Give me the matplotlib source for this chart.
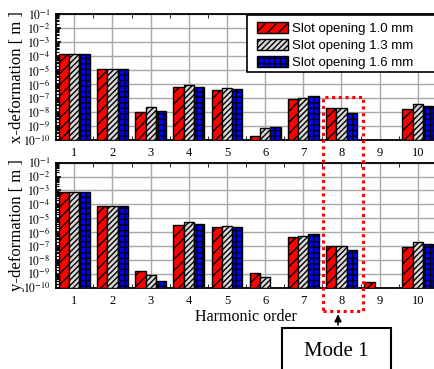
import numpy as np
import matplotlib
matplotlib.use("Agg")
import matplotlib.pyplot as plt
from matplotlib.patches import Rectangle, FancyArrowPatch
from matplotlib.ticker import LogLocator, NullFormatter, FixedLocator

plt.rcParams["font.family"] = ["Liberation Serif", "DejaVu Serif"]
plt.rcParams["mathtext.fontset"] = "stix"
plt.rcParams["hatch.linewidth"] = 1.0

W, H = 435, 369
DPI = 100

# Harmonic orders and deformation amplitudes [m] per slot opening
orders = [1, 2, 3, 4, 5, 6, 7, 8, 9, 10]
series_labels = ["Slot opening 1.0 mm", "Slot opening 1.3 mm", "Slot opening 1.6 mm"]
nan = np.nan
x_def_10 = [1.3e-4, 1.25e-5, 1.0e-8, 5.8e-7, 3.7e-7, 1.9e-10, 8.5e-8, 1.8e-8, nan, 1.6e-8]
x_def_13 = [1.3e-4, 1.25e-5, 2.1e-8, 8.0e-7, 4.9e-7, 6.8e-10, 9.5e-8, 1.8e-8, nan, 3.5e-8]
x_def_16 = [1.3e-4, 1.25e-5, 1.2e-8, 6.4e-7, 4.2e-7, 8.5e-10, 1.3e-7, 8.5e-9, nan, 2.5e-8]
y_def_10 = [8.1e-4, 7.6e-5, 1.7e-9, 3.5e-6, 2.2e-6, 1.15e-9, 4.8e-7, 1.0e-7, 2.6e-10, 9.1e-8]
y_def_13 = [8.1e-4, 7.6e-5, 8.3e-10, 5.1e-6, 2.95e-6, 6.0e-10, 5.6e-7, 1.0e-7, nan, 2.1e-7]
y_def_16 = [8.1e-4, 7.6e-5, 3.1e-10, 3.7e-6, 2.5e-6, nan, 7.4e-7, 5.2e-8, nan, 1.4e-7]

styles = [
    dict(facecolor="#ff0000", hatch="///"),
    dict(facecolor="#d8d8d8", hatch="//////"),
    dict(facecolor="#0000ff", hatch="+++"),
]

YMIN, YMAX = 1e-10, 1e-1
width = 0.27


def fx(px):
    return px / W


def fy(py):
    return 1 - py / H


fig = plt.figure(figsize=(W / DPI, H / DPI), dpi=DPI)

ax_top = fig.add_axes([fx(56), fy(140), fx(435) - fx(56), fy(14) - fy(140)])
ax_bot = fig.add_axes([fx(56), fy(287.7), fx(435) - fx(56), fy(162.7) - fy(287.7)])


def draw_panel(ax, data, ylabel):
    x = np.array(orders, dtype=float)
    handles = []
    for i, (vals, st) in enumerate(zip(data, styles)):
        h = ax.bar(x + (i - 1) * width, np.array(vals) - YMIN, width, bottom=YMIN,
                   edgecolor="black", linewidth=1.0, zorder=3,
                   label=series_labels[i], **st)
        handles.append(h)
    ax.set_yscale("log")
    ax.set_ylim(YMIN, YMAX)
    ax.set_xlim(0.52, 10.45)
    ax.set_yticks([10.0 ** k for k in range(-10, 0)])
    ax.set_yticklabels([r"$10^{%d}$" % k for k in range(-10, 0)], fontsize=8.5)
    ax.yaxis.set_minor_locator(LogLocator(base=10, subs=np.arange(2, 10), numticks=30))
    ax.yaxis.set_minor_formatter(NullFormatter())
    ax.set_xticks(orders)
    ax.set_xticklabels([str(o) for o in orders], fontsize=9)
    ax.xaxis.set_minor_locator(FixedLocator(np.arange(0.5, 11, 1.0)))
    ax.tick_params(axis="x", which="major", length=0, pad=5)
    ax.tick_params(axis="x", which="minor", direction="in", length=3, top=True, bottom=True)
    ax.tick_params(axis="y", which="major", direction="in", length=3.5, width=1.2, pad=4)
    ax.tick_params(axis="y", which="minor", direction="in", length=2, width=0.8)
    ax.grid(True, which="major", color="#a8a8a8", linewidth=1.0, zorder=0)
    ax.set_axisbelow(True)
    for s in ["left", "top", "bottom"]:
        ax.spines[s].set_linewidth(1.3)
    ax.spines["right"].set_visible(False)
    ax.set_ylabel(ylabel, fontsize=12)
    ax.yaxis.set_label_coords(-0.083, 0.5)
    return handles


handles = draw_panel(ax_top, [x_def_10, x_def_13, x_def_16], "x-deformation [ m ]")
draw_panel(ax_bot, [y_def_10, y_def_13, y_def_16], "y-deformation [ m ]")
ax_bot.set_xlabel("Harmonic order", fontsize=11.5)
ax_bot.xaxis.set_label_coords(0.5, -0.17)

# Legend box in the upper right of the top panel
frame = Rectangle((fx(247), fy(72)), fx(445) - fx(247), fy(15) - fy(72),
                  transform=fig.transFigure, facecolor="white", edgecolor="black",
                  linewidth=1.2, zorder=4)
ax_top.add_patch(frame)
frame.set_clip_on(False)
leg = ax_top.legend(handles=handles, loc="upper left",
                    bbox_to_anchor=(fx(254), fy(19)), bbox_transform=fig.transFigure,
                    frameon=False, prop={"family": "Liberation Sans", "size": 9.5},
                    handlelength=2.35, handleheight=0.9, handletextpad=0.35,
                    labelspacing=0.3, borderpad=0.2, borderaxespad=0)
leg.set_zorder(5)

# Dotted highlight around the 8th harmonic, spanning both panels
fig.add_artist(Rectangle((fx(322.7), fy(310.7)), fx(362.7) - fx(322.7), fy(96.7) - fy(310.7),
                         transform=fig.transFigure, fill=False, edgecolor="#ff0000",
                         linewidth=2.2, linestyle=(0, (1, 1.2)), zorder=10))

# Annotation box and arrow
fig.add_artist(Rectangle((fx(282), fy(380)), fx(391) - fx(282), fy(327.7) - fy(380),
                         transform=fig.transFigure, fill=False, edgecolor="black",
                         linewidth=1.5, zorder=10))
fig.text(fx(336.5), fy(351.5), "Mode 1", fontsize=15, ha="center", va="center")
fig.add_artist(FancyArrowPatch((fx(338), fy(327.7)), (fx(338), fy(311.5)),
                               transform=fig.transFigure, arrowstyle="-|>",
                               mutation_scale=10, color="black", linewidth=1.2))

fig.savefig("out.png", dpi=DPI)
